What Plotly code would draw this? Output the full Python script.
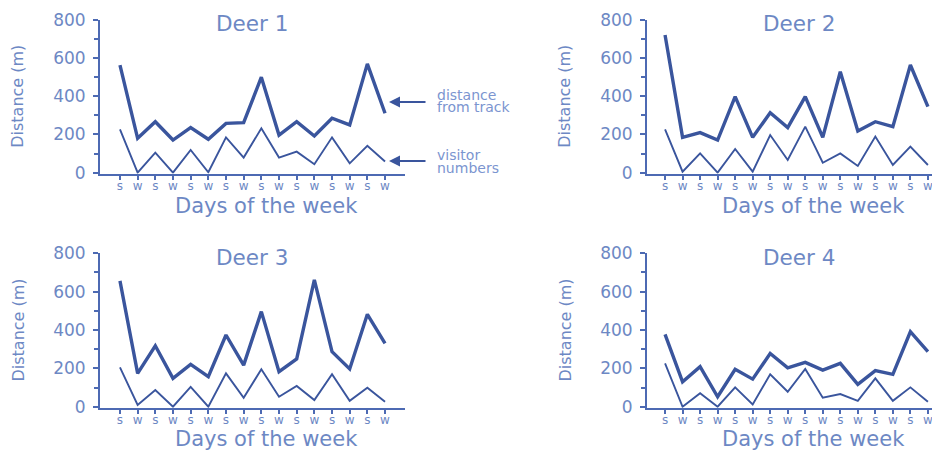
import plotly.graph_objects as go

days = ["s", "w", "s", "w", "s", "w", "s", "w", "s", "w", "s", "w", "s", "w", "s", "w"]
deer_names = ["Deer 1", "Deer 2", "Deer 3", "Deer 4"]

distance_deer1 = [564, 180, 267, 171, 236, 175, 258, 262, 500, 197, 267, 192, 285, 250, 570, 311]
visitors_deer1 = [227, 0, 105, 0, 119, 2, 185, 79, 232, 79, 110, 44, 185, 49, 141, 58]

distance_deer2 = [721, 185, 210, 171, 398, 185, 314, 236, 398, 185, 529, 218, 267, 241, 564, 346]
visitors_deer2 = [227, 5, 101, 0, 124, 5, 197, 66, 241, 52, 101, 35, 189, 40, 136, 40]

distance_deer3 = [656, 174, 318, 148, 221, 157, 374, 217, 496, 183, 249, 661, 287, 197, 482, 330]
visitors_deer3 = [205, 9, 87, 0, 103, 0, 174, 47, 195, 52, 108, 35, 170, 31, 99, 26]

distance_deer4 = [377, 130, 209, 52, 195, 144, 278, 203, 231, 191, 226, 117, 188, 169, 391, 287]
visitors_deer4 = [226, 0, 70, 0, 101, 12, 169, 78, 197, 47, 66, 31, 148, 31, 101, 26]

distances = [distance_deer1, distance_deer2, distance_deer3, distance_deer4]
visitors = [visitors_deer1, visitors_deer2, visitors_deer3, visitors_deer4]

LINE = "#3a559d"
AXIS = "#4d6ab3"
TEXT = "#6d88c4"
NOTE = "#7b95d0"
FONT = "DejaVu Sans"

# page has an 8px body margin inside the 940x450 window
OFF = 8
W, H = 940 - OFF, 450 - OFF


def px(x):
    return (x - OFF) / W


def py(y):
    return 1 - (y - OFF) / H


idx = list(range(len(days)))

fig = go.Figure()

# panel geometry in window pixels: (axis_left, axis_right, top_800, bottom, range_lo, range_hi, xtitle_gap)
panels = [
    (100, 405, 20, 173.6, -1.13, 16.13, 32),
    (647, 940, 20, 173.6, -1.03, 15.69, 32),
    (100, 405, 253.3, 407.7, -1.13, 16.13, 31),
    (647, 940, 253.3, 407.7, -1.03, 15.69, 31),
]

for i, (x0, x1, ytop, ybot, r0, r1, gap) in enumerate(panels):
    n = "" if i == 0 else str(i + 1)
    xa, ya = "x" + n, "y" + n
    fig.add_trace(go.Scatter(x=idx, y=distances[i], mode="lines", xaxis=xa, yaxis=ya,
                             line=dict(color=LINE, width=3.4), showlegend=False))
    fig.add_trace(go.Scatter(x=idx, y=visitors[i], mode="lines", xaxis=xa, yaxis=ya,
                             line=dict(color=LINE, width=1.9), showlegend=False))
    fig.update_layout(**{
        "xaxis" + n: dict(
            domain=[px(x0), min(1, px(x1))], range=[r0, r1], anchor=ya,
            tickmode="array", tickvals=idx, ticktext=days,
            ticks="outside", ticklen=4, tickwidth=1.5, tickcolor=AXIS,
            showline=True, linecolor=AXIS, linewidth=2, showgrid=False, zeroline=False,
            tickfont=dict(family=FONT, size=12, color=TEXT), ticklabelstandoff=-4,
            automargin=False,
        ),
        "yaxis" + n: dict(
            domain=[py(ybot), py(ytop)], range=[-5, 800], anchor=xa,
            tickmode="array", tickvals=[0, 200, 400, 600, 800],
            ticks="outside", ticklen=5, tickwidth=1.5, tickcolor=AXIS,
            minor=dict(tickvals=[100, 300, 500, 700], ticks="outside", ticklen=4,
                       tickwidth=1.5, tickcolor=AXIS),
            showline=True, linecolor=AXIS, linewidth=2, showgrid=False, zeroline=False,
            tickfont=dict(family=FONT, size=17, color=TEXT), ticklabelstandoff=4,
            automargin=False,
        ),
    })
    # panel title
    fig.add_annotation(x=px(x0 + 152), y=py(ytop + 4), xref="paper", yref="paper",
                       text=deer_names[i], showarrow=False, xanchor="center", yanchor="middle",
                       font=dict(family=FONT, size=21.5, color=TEXT))
    # x title
    fig.add_annotation(x=px(x0 + 166), y=py(ybot + gap), xref="paper", yref="paper",
                       text="Days of the week", showarrow=False, xanchor="center", yanchor="middle",
                       borderpad=0, font=dict(family=FONT, size=21, color=TEXT))
    # y title
    fig.add_annotation(x=px(x0 - 82), y=py((ytop + ybot) / 2), xref="paper", yref="paper",
                       text="Distance (m)", showarrow=False, textangle=-90,
                       xanchor="center", yanchor="middle",
                       font=dict(family=FONT, size=16, color=TEXT))

# side notes for Deer 1
for txt, yy in [("distance", 95.5), ("from track", 107.5), ("visitor", 155), ("numbers", 167.5)]:
    fig.add_annotation(x=px(436), y=py(yy), xref="paper", yref="paper", text=txt,
                       showarrow=False, xanchor="left", yanchor="middle", borderpad=0,
                       font=dict(family=FONT, size=14, color=NOTE))
for yy in [102, 161]:
    fig.add_annotation(x=px(389), y=py(yy), xref="paper", yref="paper", text="",
                       showarrow=True, ax=38, ay=0, arrowhead=2, arrowsize=1.1,
                       arrowwidth=2, arrowcolor=LINE)

fig.update_layout(width=W, height=H, margin=dict(l=0, r=0, t=0, b=0, autoexpand=False),
                  paper_bgcolor="white", plot_bgcolor="white")

fig.write_html("out.html")
